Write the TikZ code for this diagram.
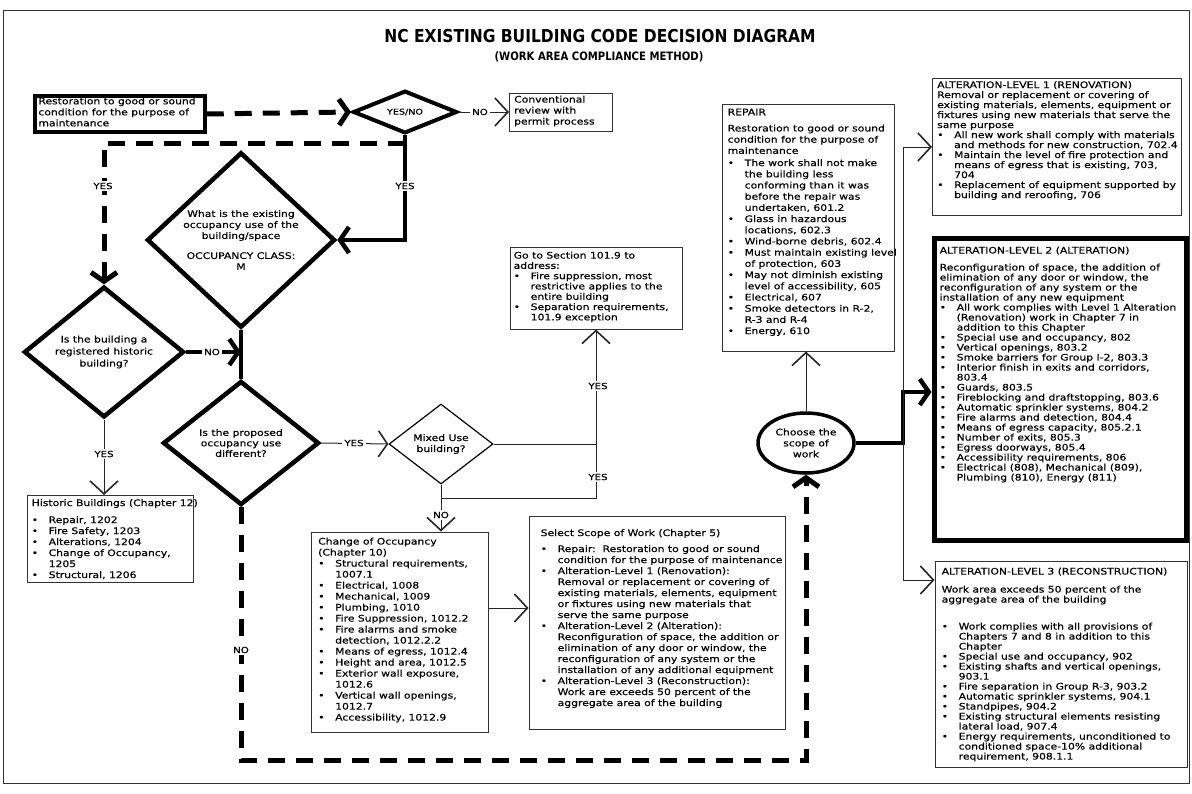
\documentclass[tikz,border=0pt]{standalone}
\usepackage{fontspec}
\setmainfont{DejaVu Sans}[FakeStretch=1.2,FakeBold=0.5]
\newfontfamily\titlefont{DejaVu Sans}[FakeStretch=0.87]
\usetikzlibrary{arrows.meta,shapes.geometric}
\newcommand{\bl}{\makebox[17pt][l]{\textbullet}}
\newcommand{\ind}{\hspace*{17pt}}
\tikzset{
  thinbox/.style={rectangle,draw=black!80,line width=1pt},
  heavybox/.style={rectangle,draw=black,line width=#1},
  boxtext/.style={anchor=north west,align=left,inner sep=0pt,font=\fontsize{9}{#1}\selectfont},
  decision/.style={diamond,draw=black,line width=#1,inner sep=0pt,align=center},
  heavyline/.style={draw=black,line width=4.5pt},
  heavydash/.style={draw=black,line width=5pt,dash pattern=on 17pt off 11pt},
  thinline/.style={draw=black!85,line width=1pt},
  xarrow/.style={-{Straight Barb[length=9pt,width=26pt]}},
  varrow/.style={-{Straight Barb[length=13pt,width=28pt,line width=1.6pt]}},
  lbl/.style={fill=white,inner sep=2pt,font=\fontsize{8.5}{10}\selectfont}
}
\begin{document}
\begin{tikzpicture}[x=1pt,y=-1pt,font=\fontsize{9}{11}\selectfont]
\useasboundingbox (0,0) rectangle (1192,793);
\draw[black!80,line width=0.8pt] (3,10) rectangle (1189,783);

\node[font=\titlefont\bfseries\fontsize{17.8}{20}\selectfont] (title) at (600,36) {NC EXISTING BUILDING CODE DECISION DIAGRAM};
\node[font=\titlefont\bfseries\fontsize{11.6}{12}\selectfont] (subtitle) at (599,57) {(WORK AREA COMPLIANCE METHOD)};

% top row
\node[heavybox=3.5pt,minimum width=170,minimum height=36] (rest) at (120,114) {};
\node[boxtext=11] (restt) at ([shift={(5pt,-3pt)}]rest.north west) {Restoration to good or sound\\condition for the purpose of\\maintenance};
\node[decision=4pt,minimum width=104,minimum height=38,font=\fontsize{8}{9}\selectfont] (yesno) at (405,112) {YES/NO};
\node[thinbox,minimum width=103,minimum height=38] (conv) at (561,112) {};
\node[boxtext=11] (convt) at ([shift={(5pt,-3pt)}]conv.north west) {Conventional\\review with\\permit process};

% decisions
\node[decision=4.5pt,minimum width=188,minimum height=146] (occ) at (241,240) {What is the existing\\occupancy use of the\\building/space\\[9pt]OCCUPANCY CLASS:\\M};
\node[decision=4.5pt,minimum width=160,minimum height=128,font=\fontsize{9}{12}\selectfont] (hist) at (104,352) {Is the building a\\registered historic\\building?};
\node[decision=4.5pt,minimum width=156,minimum height=124,font=\fontsize{9}{10.5}\selectfont] (prop) at (241,443) {Is the proposed\\occupancy use\\different?};
\node[decision=1.2pt,minimum width=104,minimum height=80] (mixed) at (441,444) {Mixed Use\\building?};
\node[ellipse,draw=black,line width=3.5pt,minimum width=96,minimum height=60,inner sep=0pt,align=center] (scope) at (806,443) {Choose the\\scope of\\work};

% boxes
\node[thinbox,minimum width=172,minimum height=82] (sect) at (596,288) {};
\node[boxtext=10.3] (sectt) at ([shift={(4pt,-5pt)}]sect.north west) {Go to Section 101.9 to\\address:\\\bl Fire suppression, most\\\ind restrictive applies to the\\\ind entire building\\\bl Separation requirements,\\\ind 101.9 exception};
\node[thinbox,minimum width=166,minimum height=87] (hbox) at (110,539) {};
\node[boxtext=11] (hboxt) at ([shift={(5pt,-4pt)}]hbox.north west) {Historic Buildings (Chapter 12)\\[6pt]\bl Repair, 1202\\\bl Fire Safety, 1203\\\bl Alterations, 1204\\\bl Change of Occupancy,\\\ind 1205\\\bl Structural, 1206};
\node[thinbox,minimum width=177,minimum height=200] (chg) at (400,632) {};
\node[boxtext=11] (chgt) at ([shift={(7pt,-6pt)}]chg.north west) {Change of Occupancy\\(Chapter 10)\\\bl Structural requirements,\\\ind 1007.1\\\bl Electrical, 1008\\\bl Mechanical, 1009\\\bl Plumbing, 1010\\\bl Fire Suppression, 1012.2\\\bl Fire alarms and smoke\\\ind detection, 1012.2.2\\\bl Means of egress, 1012.4\\\bl Height and area, 1012.5\\\bl Exterior wall exposure,\\\ind 1012.6\\\bl Vertical wall openings,\\\ind 1012.7\\\bl Accessibility, 1012.9};
\node[thinbox,minimum width=256,minimum height=213] (sel) at (657,623) {};
\node[boxtext=11] (selt) at ([shift={(12pt,-13pt)}]sel.north west) {Select Scope of Work (Chapter 5)\\[5pt]\bl Repair:\ \ Restoration to good or sound\\\ind condition for the purpose of maintenance\\\bl Alteration-Level 1 (Renovation):\\\ind Removal or replacement or covering of\\\ind existing materials, elements, equipment\\\ind or fixtures using new materials that\\\ind serve the same purpose\\\bl Alteration-Level 2 (Alteration):\\\ind Reconfiguration of space, the addition or\\\ind elimination of any door or window, the\\\ind reconfiguration of any system or the\\\ind installation of any additional equipment\\\bl Alteration-Level 3 (Reconstruction):\\\ind Work are exceeds 50 percent of the\\\ind aggregate area of the building};
\node[thinbox,minimum width=172,minimum height=247] (rep) at (808,227.5) {};
\node[boxtext=11.2] (rept) at ([shift={(6pt,-5pt)}]rep.north west) {REPAIR\\[5pt]Restoration to good or sound\\condition for the purpose of\\maintenance\\[1pt]\bl The work shall not make\\\ind the building less\\\ind conforming than it was\\\ind before the repair was\\\ind undertaken, 601.2\\\bl Glass in hazardous\\\ind locations, 602.3\\\bl Wind-borne debris, 602.4\\\bl Must maintain existing level\\\ind of protection, 603\\\bl May not diminish existing\\\ind level of accessibility, 605\\\bl Electrical, 607\\\bl Smoke detectors in R-2,\\\ind R-3 and R-4\\\bl Energy, 610};
\node[thinbox,minimum width=249,minimum height=137] (alt1) at (1057,147) {};
\node[boxtext=10] (alt1t) at ([shift={(5pt,-3pt)}]alt1.north west) {ALTERATION-LEVEL 1 (RENOVATION)\\Removal or replacement or covering of\\existing materials, elements, equipment or\\fixtures using new materials that serve the\\same purpose\\\bl All new work shall comply with materials\\\ind and methods for new construction, 702.4\\\bl Maintain the level of fire protection and\\\ind means of egress that is existing, 703,\\\ind 704\\\bl Replacement of equipment supported by\\\ind building and reroofing, 706};
\node[heavybox=5pt,minimum width=252,minimum height=302] (alt2) at (1060,389) {};
\node[boxtext=10] (alt2t) at ([shift={(8pt,-11pt)}]alt2.north west) {ALTERATION-LEVEL 2 (ALTERATION)\\[7pt]Reconfiguration of space, the addition of\\elimination of any door or window, the\\reconfiguration of any system or the\\installation of any new equipment\\\bl All work complies with Level 1 Alteration\\\ind (Renovation) work in Chapter 7 in\\\ind addition to this Chapter\\\bl Special use and occupancy, 802\\\bl Vertical openings, 803.2\\\bl Smoke barriers for Group I-2, 803.3\\\bl Interior finish in exits and corridors,\\\ind 803.4\\\bl Guards, 803.5\\\bl Fireblocking and draftstopping, 803.6\\\bl Automatic sprinkler systems, 804.2\\\bl Fire alarms and detection, 804.4\\\bl Means of egress capacity, 805.2.1\\\bl Number of exits, 805.3\\\bl Egress doorways, 805.4\\\bl Accessibility requirements, 806\\\bl Electrical (808), Mechanical (809),\\\ind Plumbing (810), Energy (811)};
\node[thinbox,minimum width=252,minimum height=206] (alt3) at (1061,664) {};
\node[boxtext=10] (alt3t) at ([shift={(7pt,-7pt)}]alt3.north west) {ALTERATION-LEVEL 3 (RECONSTRUCTION)\\[8pt]Work area exceeds 50 percent of the\\aggregate area of the building\\[17pt]\bl Work complies with all provisions of\\\ind Chapters 7 and 8 in addition to this\\\ind Chapter\\\bl Special use and occupancy, 902\\\bl Existing shafts and vertical openings,\\\ind 903.1\\\bl Fire separation in Group R-3, 903.2\\\bl Automatic sprinkler systems, 904.1\\\bl Standpipes, 904.2\\\bl Existing structural elements resisting\\\ind lateral load, 907.4\\\bl Energy requirements, unconditioned to\\\ind conditioned space-10\% additional\\\ind requirement, 908.1.1};

% connectors
\coordinate (ysplit) at (405,143);
\coordinate (nobend) at (241,760);
\coordinate (mixsplit) at (441,498);
\coordinate (jct) at (903,392);
\coordinate (top1) at (903,147);
\coordinate (bot3) at (903,580);
\draw[heavydash,xarrow] (rest.east) -- (yesno.west);
\draw[thinline,varrow] (yesno.east) -- (conv.west);
\draw[heavyline,xarrow] (yesno.south) |- (occ.east);
\draw[heavydash,xarrow] (ysplit) -| (hist.north);
\draw[heavyline] (occ.south) -- (prop.north);
\draw[heavyline,xarrow] (hist.east) -- (hist.east -| occ.south);
\draw[thinline,varrow] (hist.south) -- (hist.south |- hbox.north);
\draw[thinline,-{Straight Barb[length=9pt,width=26pt,line width=1.6pt]}] (prop.east) -- (mixed.west);
\draw[thinline] (mixed.east) -- (mixed.east -| sect.south);
\draw[thinline,varrow] (mixsplit) -| (sect.south);
\draw[thinline,varrow] (mixed.south) -- (mixed.south |- chg.north);
\draw[thinline,varrow] ([yshift=24pt]chg.east) -- ([yshift=24pt]chg.east -| sel.west);
\draw[heavydash,xarrow] (prop.south) -- (nobend) -| (scope.south);
\draw[thinline,varrow] (scope.north) -- (scope.north |- rep.south);
\draw[heavyline,xarrow] (scope.east) -| (jct) -- (jct -| alt2.west);
\draw[thinline] (top1) -- (bot3);
\draw[thinline,varrow] (top1) -- (top1 -| alt1.west);
\draw[thinline,varrow] (bot3) -- (bot3 -| alt3.west);

% labels
\node[lbl] (no1) at (480,112) {NO};
\node[lbl] (yes1) at (405,186) {YES};
\node[lbl] (yes2) at (103,186) {YES};
\node[lbl] (no2) at (212,352) {NO};
\node[lbl] (yes3) at (104,454) {YES};
\node[lbl] (yes4) at (354,443) {YES};
\node[lbl] (yes5) at (598,386) {YES};
\node[lbl] (yes6) at (598,477) {YES};
\node[lbl] (no3) at (441,515) {NO};
\node[lbl] (no4) at (241,650) {NO};
\end{tikzpicture}
\end{document}
